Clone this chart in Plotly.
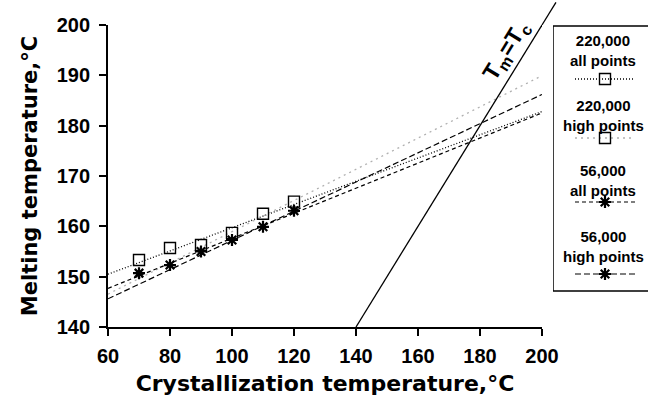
import numpy as np
import plotly.graph_objects as go

# ---- data ----
tc = [70, 80, 90, 100, 110, 120]                      # crystallization temperature, °C
tm_220k = [153.3, 155.7, 156.3, 158.7, 162.5, 164.9]  # 220,000 melting temps
tm_56k = [150.7, 152.3, 155.0, 157.3, 159.9, 163.1]   # 56,000 melting temps
high_idx = [3, 4, 5]                                  # "high points" subset (Tc = 100..120)
x_ticks = [60, 80, 100, 120, 140, 160, 180, 200]
y_ticks = [140, 150, 160, 170, 180, 190, 200]
x_range = [60, 200]
y_range = [140, 200]

W, H = 648, 402
ML, MT, MB = 108, 25, 75
PW = W - ML
XDOM = 434 / PW

def fit_line(x, y):
    a, b = np.polyfit(x, y, 1)
    xs = np.array(x_range, dtype=float)
    return xs, a * xs + b

tc_arr = np.array(tc, float)
a220 = np.array(tm_220k)
a56 = np.array(tm_56k)

styles = {
    "220,000<br>all points": dict(color="black", dash="1px,2px", width=1.3),
    "220,000<br>high points": dict(color="#b0b0b0", dash="2px,4px", width=1.3),
    "56,000<br>all points": dict(color="black", dash="4px,3px", width=1.2),
    "56,000<br>high points": dict(color="black", dash="6px,3px", width=1.2),
}
fits = {
    "220,000<br>all points": fit_line(tc_arr, a220),
    "220,000<br>high points": fit_line(tc_arr[high_idx], a220[high_idx]),
    "56,000<br>all points": fit_line(tc_arr, a56),
    "56,000<br>high points": fit_line(tc_arr[high_idx], a56[high_idx]),
}

fig = go.Figure()
for name, (xs, ys) in fits.items():
    fig.add_trace(go.Scatter(x=xs, y=ys, mode="lines", line=styles[name],
                             showlegend=False, hoverinfo="skip"))

# Tm = Tc line
fig.add_trace(go.Scatter(x=[140, 200], y=[140, 200], mode="lines",
                         line=dict(color="black", width=1.3), showlegend=False))

sq = dict(symbol="square-open", size=11, color="black", line=dict(width=1.4))
st = dict(symbol="asterisk-open", size=10, color="black", line=dict(width=2.2, color="black"))
fig.add_trace(go.Scatter(x=tc, y=tm_220k, mode="markers", marker=sq, showlegend=False))
fig.add_trace(go.Scatter(x=tc, y=tm_56k, mode="markers", marker=st, showlegend=False))

# ---- hand-built legend on helper axes (pixel-like units) ----
leg_items = [
    ("220,000<br>all points", 50, 79, sq),
    ("220,000<br>high points", 115, 138, sq),
    ("56,000<br>all points", 180, 202, st),
    ("56,000<br>high points", 246, 274, st),
]
annotations = []
for name, ty, sy, mk in leg_items:
    fig.add_trace(go.Scatter(x=[575, 635], y=[sy, sy], mode="lines", line=styles[name],
                             xaxis="x2", yaxis="y2", showlegend=False, hoverinfo="skip"))
    fig.add_trace(go.Scatter(x=[605], y=[sy], mode="markers", marker=mk,
                             xaxis="x2", yaxis="y2", showlegend=False, hoverinfo="skip"))
    annotations.append(dict(x=603, y=ty, xref="x2", yref="y2", text=name, showarrow=False,
                            font=dict(family="Liberation Sans", size=15, color="black", weight="bold"),
                            align="center"))

def xp(v):
    return (v - x_range[0]) / (x_range[1] - x_range[0]) * XDOM

def yp(v):
    return (v - y_range[0]) / (y_range[1] - y_range[0])

shapes = [
    dict(type="rect", xref="x2", yref="y2", x0=553, x1=670, y0=26, y1=291,
         line=dict(color="black", width=1.5)),
    dict(type="line", xref="paper", yref="paper", x0=xp(200), y0=yp(200), x1=xp(204.5), y1=yp(204.5),
         line=dict(color="black", width=1.3)),
]

annotations.append(dict(x=188.4, y=194.8, xref="x", yref="y",
                        text="T<sub>m</sub>=T<sub>c</sub>", showarrow=False, textangle=-58.5,
                        font=dict(family="Liberation Sans", size=23, color="black", weight="bold")))

tickfont = dict(family="Liberation Sans", size=20, color="black", weight="bold")

fig.update_layout(
    width=W, height=H, margin=dict(l=ML, r=0, t=MT, b=MB, autoexpand=False),
    paper_bgcolor="white", plot_bgcolor="white",
    xaxis=dict(domain=[0, XDOM], range=x_range, tickvals=x_ticks, ticks="outside", ticklen=7,
               tickwidth=1.5, tickcolor="black", showline=True, linecolor="black", linewidth=1.8,
               showgrid=False, zeroline=False, tickfont=tickfont, automargin=False,
               ticklabelstandoff=3,
               title=dict(text="Crystallization temperature,°C", standoff=10,
                          font=dict(family="DejaVu Sans", size=22, color="black", weight="bold"))),
    yaxis=dict(range=y_range, tickvals=y_ticks, ticks="outside", ticklen=7, tickwidth=1.5,
               tickcolor="black", showline=True, linecolor="black", linewidth=1.8,
               showgrid=False, zeroline=False, tickfont=tickfont, automargin=False,
               ticklabelstandoff=5,
               title=dict(text="Melting temperature,°C", standoff=13,
                          font=dict(family="DejaVu Sans", size=21, color="black", weight="bold"))),
    xaxis2=dict(domain=[445 / PW, 1], range=[553, 648], visible=False, anchor="y2"),
    yaxis2=dict(domain=[0, 1], range=[327, 25], visible=False, anchor="x2"),
    shapes=shapes, annotations=annotations,
)

fig.write_html("out.html", config={"displayModeBar": False},
               post_script="document.body.style.margin='0';document.body.style.overflow='hidden';")
